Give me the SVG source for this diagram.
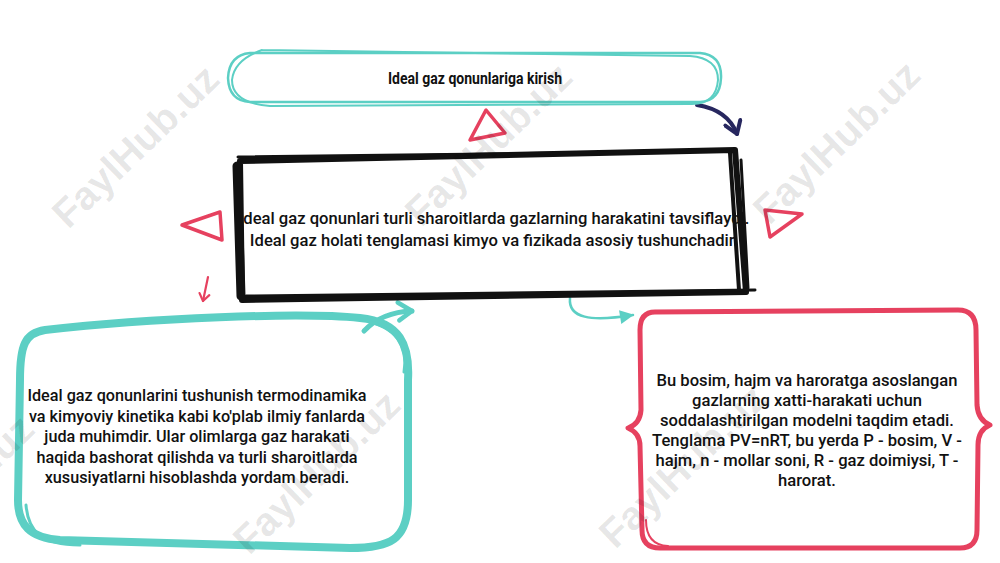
<svg xmlns="http://www.w3.org/2000/svg" width="1000" height="563" viewBox="0 0 1000 563">
<defs>
<style>
.body{font-family:Roboto,"Liberation Sans",sans-serif;font-size:16.6px;font-weight:500;fill:#111;text-anchor:middle}
.bodyL{font-size:16.2px}
.title{font-family:Roboto,"Liberation Sans",sans-serif;font-size:17px;font-weight:700;fill:#111;text-anchor:middle}
.teal{stroke:#5ccfc4;fill:none;stroke-linecap:round;stroke-linejoin:round}
.blk{stroke:#111;fill:none;stroke-linecap:round;stroke-linejoin:round}
.red{stroke:#e6415f;fill:none;stroke-linecap:round;stroke-linejoin:round}
.tri{stroke:#e6415f;stroke-width:3.5;fill:none;stroke-linejoin:round}
.wm{font-family:"Liberation Sans",Arial,sans-serif;font-size:40px;font-weight:700;fill:#000;fill-opacity:0.1;text-anchor:middle}
</style>
<marker id="navyHead" viewBox="0 0 20 20" refX="15" refY="10" markerWidth="20" markerHeight="20" markerUnits="userSpaceOnUse" orient="auto">
<path d="M3 2 L15 10 L3 18" fill="none" stroke="#27275f" stroke-width="4" stroke-linecap="round" stroke-linejoin="round"/>
</marker>
<marker id="redHead" viewBox="0 0 14 14" refX="10" refY="7" markerWidth="14" markerHeight="14" markerUnits="userSpaceOnUse" orient="auto">
<path d="M3 2 L10 7 L3 12" fill="none" stroke="#e6415f" stroke-width="2.2" stroke-linecap="round" stroke-linejoin="round"/>
</marker>
<marker id="tealHead" viewBox="0 0 24 24" refX="18" refY="12" markerWidth="24" markerHeight="24" markerUnits="userSpaceOnUse" orient="auto">
<path d="M4 3 L18 12 L5 21" fill="none" stroke="#5ccfc4" stroke-width="4.5" stroke-linecap="round" stroke-linejoin="round"/>
</marker>
<marker id="tealTri" viewBox="0 0 16 16" refX="14" refY="8" markerWidth="16" markerHeight="16" markerUnits="userSpaceOnUse" orient="auto">
<path d="M1 1 L15 8 L1 15 Z" fill="#5ccfc4"/>
</marker>
</defs>
<rect width="1000" height="563" fill="#fff"/>

<g id="connectors">
<path d="M697 105 Q728 110 737 134" fill="none" stroke="#27275f" stroke-width="4" stroke-linecap="round" marker-end="url(#navyHead)"/>
<path d="M208 277 L203 301" class="red" stroke-width="2.2" marker-end="url(#redHead)"/>
<path d="M364 331 Q382 312 412 311" class="teal" stroke-width="5" marker-end="url(#tealHead)"/>
<path d="M570 298 C568 318 590 322 633 315" class="teal" stroke-width="2.5" marker-end="url(#tealTri)"/>
</g>

<g id="decorations">
<polygon class="tri" points="486,110 470,140 505,133"/>
<polygon class="tri" points="182,225 220,212 222,240"/>
<polygon class="tri" points="765,210 802,214 770,237"/>
</g>

<g id="node-title">
<path d="M250 53 L700 53 Q722 55 721 78 Q720 101 700 102 L250 102 Q229 101 228 78 Q229 55 250 53 Z" class="teal" fill="#fff" stroke-width="2.5"/>
<path d="M262 50 L690 56 Q718 58 718 80 Q716 105 690 104 L270 106 Q232 103 232 80 Q234 60 262 50" class="teal" stroke-width="2"/>
<text class="title" x="475" y="84" textLength="174" lengthAdjust="spacingAndGlyphs">Ideal gaz qonunlariga kirish</text>
</g>

<g id="node-center">
<path d="M240 161 L735 150 L746 292 L242 300 Z" fill="#fff" stroke="none"/>
<text class="body" x="494" y="224">Ideal gaz qonunlari turli sharoitlarda gazlarning harakatini tavsiflaydi.</text>
<text class="body" x="494" y="246">Ideal gaz holati tenglamasi kimyo va fizikada asosiy tushunchadir.</text>
<path d="M240 161 L735 150 L746 292 L242 300 Z" class="blk" stroke-width="6"/>
<path d="M237 166 L241 296" class="blk" stroke-width="9"/>
<path d="M238 157 L728 151" class="blk" stroke-width="3"/>
<path d="M730 153 L739 290" class="blk" stroke-width="4"/>
<path d="M741 160 L748 288" class="blk" stroke-width="3"/>
<path d="M246 296 L755 290" class="blk" stroke-width="3"/>
</g>

<g id="node-left">
<path d="M45 330 C150 318 300 312 360 318 C400 322 410 345 408 380 L408 500 C408 540 390 548 350 548 L60 540 C30 538 18 525 18 500 L20 380 C20 345 25 333 45 330 Z" class="teal" fill="#fff" stroke-width="8"/>
<path d="M370 322 C400 330 408 350 404 372" class="teal" stroke-width="3"/>
<path d="M26 505 C28 530 40 545 80 545" class="teal" stroke-width="3"/>
<text class="body bodyL" x="197" y="401">Ideal gaz qonunlarini tushunish termodinamika</text>
<text class="body bodyL" x="197" y="421.5">va kimyoviy kinetika kabi ko'plab ilmiy fanlarda</text>
<text class="body bodyL" x="197" y="442">juda muhimdir. Ular olimlarga gaz harakati</text>
<text class="body bodyL" x="197" y="462.5">haqida bashorat qilishda va turli sharoitlarda</text>
<text class="body bodyL" x="197" y="483">xususiyatlarni hisoblashda yordam beradi.</text>
</g>

<g id="node-right">
<path d="M655 312 Q640 312 640 330 L641 410 Q640 424 628 428 Q640 433 640 446 L642 530 Q642 548 660 548 L960 548 Q977 548 977 530 L978 445 Q978 430 990 425 Q978 420 977 405 L976 330 Q976 310 958 310 Z" class="red" fill="#fff" stroke-width="5"/>
<path d="M646 520 Q646 545 668 546" class="red" stroke-width="2"/>
<text class="body" x="807" y="386">Bu bosim, hajm va haroratga asoslangan</text>
<text class="body" x="807" y="406">gazlarning xatti-harakati uchun</text>
<text class="body" x="807" y="426">soddalashtirilgan modelni taqdim etadi.</text>
<text class="body" x="807" y="446">Tenglama PV=nRT, bu yerda P - bosim, V -</text>
<text class="body" x="807" y="466">hajm, n - mollar soni, R - gaz doimiysi, T -</text>
<text class="body" x="807" y="486">harorat.</text>
</g>

<g id="watermarks">
<text class="wm" transform="translate(145,156) rotate(-44)">FaylHub.uz</text>
<text class="wm" transform="translate(498,154) rotate(-44)">FaylHub.uz</text>
<text class="wm" transform="translate(846,152) rotate(-44)">FaylHub.uz</text>
<text class="wm" transform="translate(326,482) rotate(-44)">FaylHub.uz</text>
<text class="wm" transform="translate(692,476) rotate(-44)">FaylHub.uz</text>
<text class="wm" transform="translate(-40,506) rotate(-44)">FaylHub.uz</text>
</g>
</svg>
